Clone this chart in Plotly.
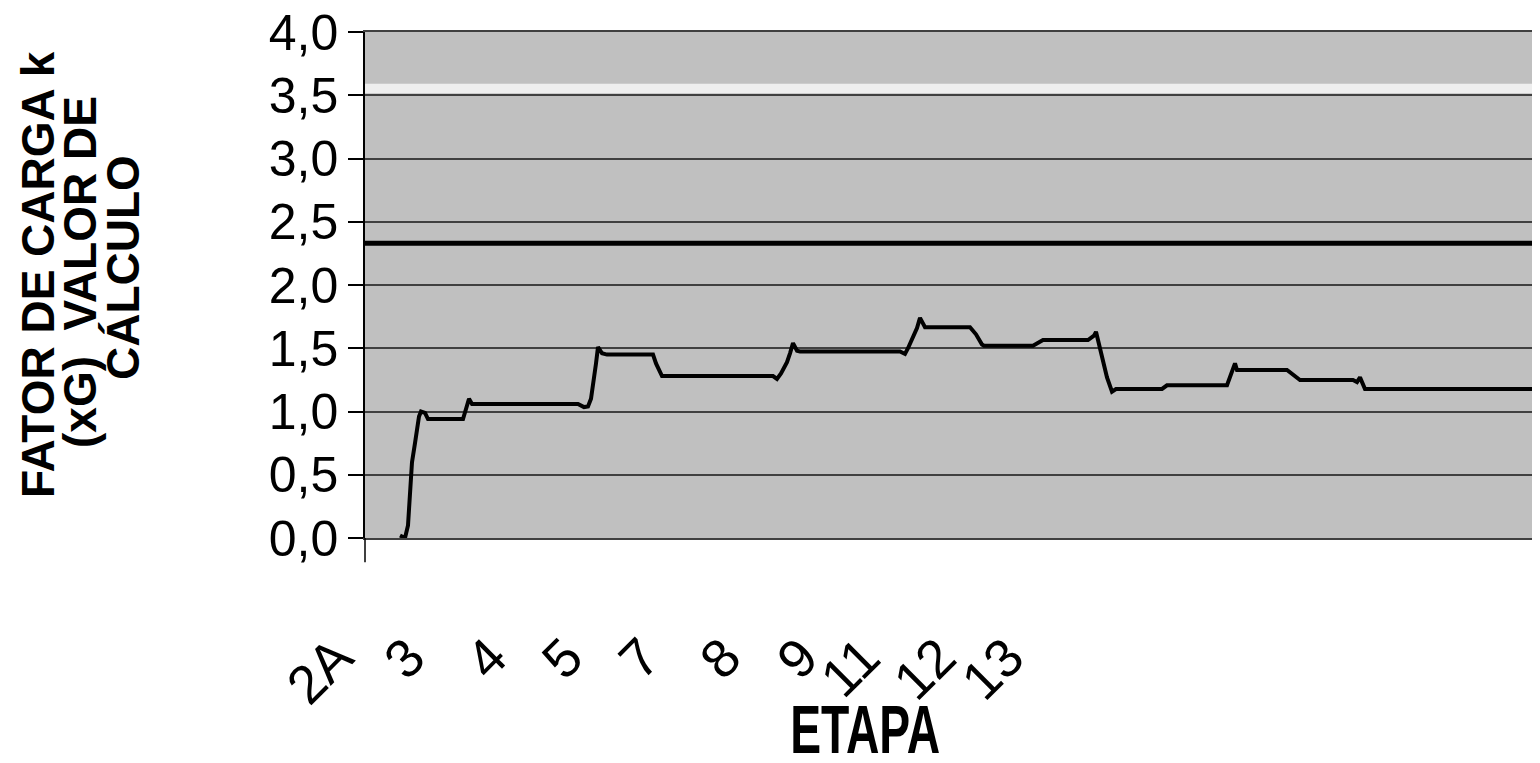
import plotly.graph_objects as go

# ---- data ----
# time-like position along the test (arbitrary units) and load factor k (xG)
t_pos = [3.5, 4.0, 4.3, 4.5, 4.7, 5.0, 5.2, 5.4, 5.6, 6.0, 6.3, 9.8, 10.1, 10.4, 10.7,
         21.3, 21.9, 22.3, 22.6, 22.8, 23.1, 23.3, 23.7, 24.2, 28.8, 29.1, 29.5, 29.7,
         40.8, 41.2, 41.6, 42.2, 42.5, 42.8, 43.2, 43.5, 53.5, 54.0, 54.3, 54.9, 55.2,
         55.5, 55.9, 56.0, 60.5, 61.1, 61.7, 61.9, 66.8, 67.8, 72.3, 72.9, 73.1, 73.5,
         73.8, 74.2, 74.7, 75.1, 79.7, 80.2, 86.2, 86.6, 87.0, 87.2, 92.2, 93.5, 98.8,
         99.2, 99.5, 100.0, 117.5]
load_k = [0.02, 0.0, 0.10, 0.30, 0.60, 0.75, 0.85, 0.96, 1.00, 0.99, 0.94, 0.94, 1.02,
          1.10, 1.06, 1.06, 1.035, 1.04, 1.10, 1.24, 1.38, 1.51, 1.46, 1.45, 1.45, 1.38,
          1.32, 1.28, 1.28, 1.257, 1.30, 1.39, 1.46, 1.54, 1.48, 1.475, 1.475, 1.455,
          1.50, 1.60, 1.66, 1.74, 1.67, 1.666, 1.666, 1.61, 1.53, 1.52, 1.52, 1.565,
          1.565, 1.60, 1.63, 1.49, 1.38, 1.27, 1.157, 1.178, 1.178, 1.207, 1.207, 1.30,
          1.38, 1.328, 1.328, 1.249, 1.249, 1.233, 1.27, 1.178, 1.178]

stage_labels = ["2A", "3", "4", "5", "7", "8", "9", "11", "12", "13"]
stage_pos = [1.2, 8.4, 16.6, 24.2, 31.9, 40.0, 47.7, 53.9, 61.5, 68.3]

design_value = 2.33          # valor de cálculo
limit_low, limit_high = 3.515, 3.59   # light band

y_ticks = [0.0, 0.5, 1.0, 1.5, 2.0, 2.5, 3.0, 3.5, 4.0]

FONT = "Liberation Sans, Arial, sans-serif"

# page is shown with an 8px body margin; plot area spans page x 365..1540, y 32..538
L, T = 357, 24
W, H = 1532, 755
B = H - (538 - 8)

fig = go.Figure()
fig.add_trace(go.Scatter(x=t_pos, y=load_k, mode="lines",
                         line=dict(color="black", width=4), showlegend=False,
                         hoverinfo="skip"))

fig.add_hrect(y0=limit_low, y1=limit_high, fillcolor="#EEEEEE", line_width=0, layer="below")
fig.add_hline(y=design_value, line=dict(color="black", width=5))

fig.update_layout(
    width=W, height=H,
    margin=dict(l=L, r=0, t=T, b=B, autoexpand=False),
    paper_bgcolor="white", plot_bgcolor="#C0C0C0",
    separators=", ",
    font=dict(family=FONT, color="black"),
    showlegend=False,
)
fig.update_xaxes(range=[0, 117.5], tickmode="array", tickvals=stage_pos, ticktext=stage_labels,
                 tickangle=-45, tickfont=dict(size=54, family=FONT), automargin=False,
                 ticks="", ticklabelstandoff=64, ticklabelshift=-40,
                 showgrid=False, zeroline=False,
                 showline=True, mirror=True, linecolor="#404040", linewidth=1.5)
fig.update_yaxes(range=[0, 4], tickmode="array", tickvals=y_ticks, tickformat=".1f",
                 tickfont=dict(size=50, family=FONT), ticklabeloverflow="allow",
                 automargin=False,
                 ticks="outside", ticklen=15, tickcolor="black", tickwidth=1.5,
                 showgrid=True, gridcolor="#404040", gridwidth=1.5,
                 zeroline=True, zerolinecolor="black", zerolinewidth=2,
                 showline=True, linecolor="black", linewidth=1.5)
# left axis line extension below the zero line
fig.add_shape(type="line", xref="paper", yref="paper", x0=0, x1=0, y0=0, y1=-0.048,
              line=dict(color="black", width=1.5))

# axis titles
fig.add_annotation(text="ETAPA", xref="paper", yref="paper", x=(865 - 365) / 1175,
                   y=(538 - 729) / 506, showarrow=False,
                   font=dict(size=68, family=FONT, weight="bold"),
                   xanchor="center", yanchor="middle")
for txt, px, py in [("FATOR DE CARGA k", 38, 275), ("(xG)  VALOR DE", 80, 272), ("CÁLCULO", 123, 268)]:
    fig.add_annotation(text=txt, xref="paper", yref="paper",
                       x=(px - 365) / 1175, y=(538 - py) / 506, textangle=-90,
                       showarrow=False, font=dict(size=46, family=FONT, weight="bold"),
                       xanchor="center", yanchor="middle")

# the axis title in the original is set in a condensed face: compress it to its width
post = """
var gd = document.getElementsByClassName('plotly-graph-div')[0];
function condense(){
  gd.querySelectorAll('.annotation-text').forEach(function(el){
    if (el.textContent === 'ETAPA') {
      el.setAttribute('textLength', '150');
      el.setAttribute('lengthAdjust', 'spacingAndGlyphs');
    }
  });
}
condense();
gd.on('plotly_afterplot', condense);
"""
fig.write_html("out.html", post_script=post)
